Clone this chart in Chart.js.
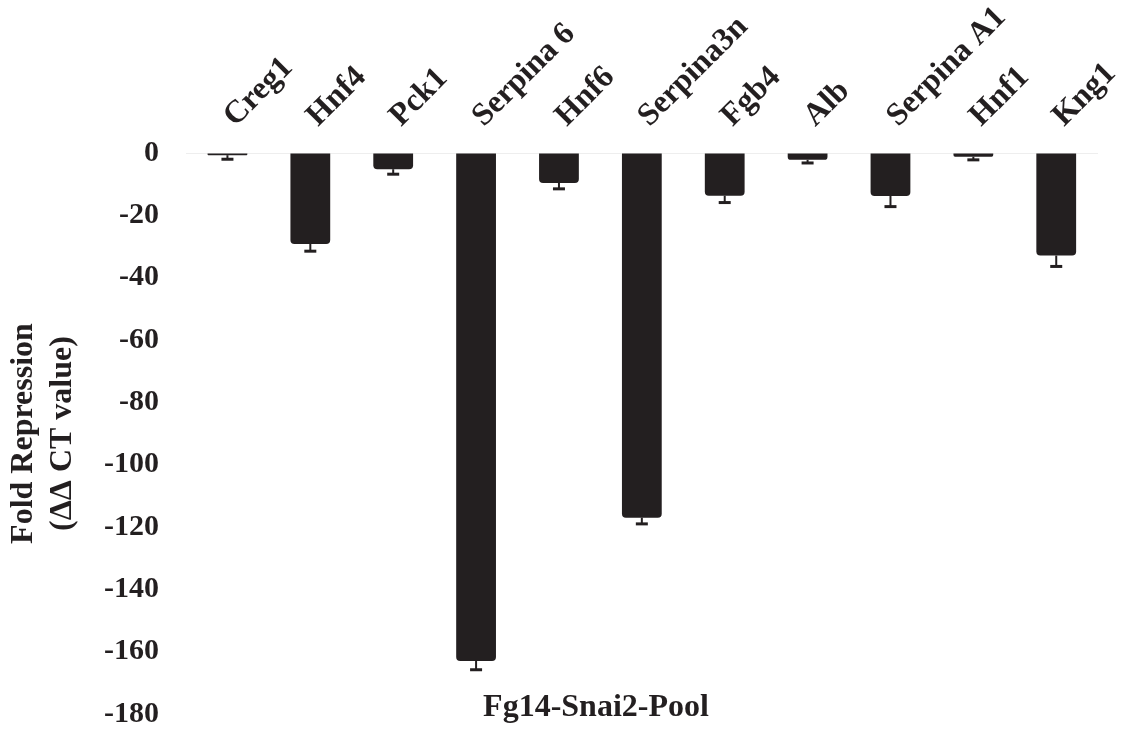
<!DOCTYPE html>
<html>
<head>
<meta charset="utf-8">
<script src="https://cdn.jsdelivr.net/npm/chart.js@4/dist/chart.umd.min.js"></script>
<style>
  html, body { margin: 0; padding: 0; background: #ffffff; }
  #c { display: block; }
</style>
</head>
<body>
<canvas id="c" width="1128" height="729"></canvas>
<script>
// Genes measured in the Fg14-Snai2-Pool
const genes = ['Creg1', 'Hnf4', 'Pck1', 'Serpina 6', 'Hnf6', 'Serpina3n', 'Fgb4', 'Alb', 'Serpina A1', 'Hnf1', 'Kng1'];
// Fold repression (ΔΔCT) per gene
const foldRepression = [-0.7, -29.2, -5.2, -163.0, -9.6, -117.0, -13.7, -2.2, -13.8, -1.2, -32.9];
// Lower error (SD) per gene
const errorLow = [1.3, 2.3, 1.6, 2.8, 1.9, 2.0, 2.2, 1.0, 3.4, 1.0, 3.5];
// Value axis range and tick step
const yMin = -180;
const yMax = 0;
const yStep = 20;

const ink = '#231f20';
const serif = "'Liberation Serif', 'DejaVu Serif', serif";

// Lower error whiskers with a short cap
const errorBars = {
  id: 'errorBars',
  afterDatasetsDraw(chart) {
    const ctx = chart.ctx;
    const ys = chart.scales.y;
    const meta = chart.getDatasetMeta(0);
    ctx.save();
    ctx.strokeStyle = ink;
    meta.data.forEach((bar, i) => {
      const yEnd = ys.getPixelForValue(foldRepression[i] - errorLow[i]);
      ctx.lineWidth = 2;
      ctx.beginPath();
      ctx.moveTo(bar.x, bar.y);
      ctx.lineTo(bar.x, yEnd);
      ctx.stroke();
      ctx.lineWidth = 3;
      ctx.beginPath();
      ctx.moveTo(bar.x - 6, yEnd);
      ctx.lineTo(bar.x + 6, yEnd);
      ctx.stroke();
    });
    ctx.restore();
  }
};

// Pool name written low inside the plot area
const poolLabel = {
  id: 'poolLabel',
  afterDraw(chart) {
    const { ctx, chartArea } = chart;
    ctx.save();
    ctx.fillStyle = ink;
    ctx.font = "bold 32px " + serif;
    ctx.textAlign = 'center';
    ctx.textBaseline = 'middle';
    ctx.fillText('Fg14-Snai2-Pool', chartArea.left + 410, chartArea.bottom - 6);
    ctx.restore();
  }
};

new Chart(document.getElementById('c'), {
  type: 'bar',
  data: {
    labels: genes,
    datasets: [{
      data: foldRepression,
      backgroundColor: ink,
      borderWidth: 0,
      borderRadius: 4,
      borderSkipped: 'start',
      barPercentage: 0.48,
      categoryPercentage: 1.0
    }]
  },
  options: {
    responsive: false,
    devicePixelRatio: 1,
    animation: false,
    layout: { padding: { left: 0, right: 21, top: 0, bottom: 15 } },
    plugins: {
      legend: { display: false },
      tooltip: { enabled: false }
    },
    scales: {
      x: {
        position: 'top',
        grid: { display: false, drawTicks: false },
        border: { display: true, color: '#eeeeee', width: 1, dash: [8, 5] },
        ticks: {
          color: ink,
          font: { family: serif, size: 32, weight: 'bold' },
          minRotation: 45,
          maxRotation: 45,
          padding: 18,
          labelOffset: 29
        },
        afterFit(scale) { scale.height = 153; }
      },
      y: {
        min: yMin,
        max: yMax,
        // invisible tick marks keep the labels clear of the bars
        grid: { display: true, drawOnChartArea: false, drawTicks: true, tickLength: 27, color: 'rgba(0,0,0,0)' },
        border: { display: false },
        ticks: {
          stepSize: yStep,
          color: ink,
          padding: 0,
          font: { family: serif, size: 30, weight: 'bold', lineHeight: 1.0 }
        },
        title: {
          display: true,
          text: ['Fold Repression', '(ΔΔ CT value)'],
          color: ink,
          font: { family: serif, size: 32, weight: 'bold', lineHeight: 1.2 },
          padding: { top: 5, bottom: 0 }
        },
        afterFit(scale) { scale.width = 186; }
      }
    }
  },
  plugins: [errorBars, poolLabel]
});
</script>
</body>
</html>
